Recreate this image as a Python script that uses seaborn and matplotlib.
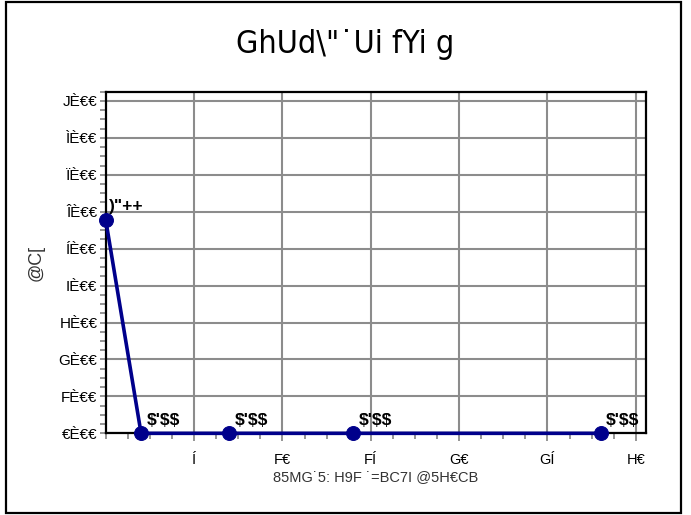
import matplotlib

matplotlib.use("Agg")

import matplotlib.pyplot as plt
import pandas as pd
import seaborn as sns
from matplotlib.patches import Rectangle
from matplotlib.ticker import AutoMinorLocator


DAYS = [0, 2, 7, 14, 28]
VALUES = [5.78, 0.0, 0.0, 0.0, 0.0]
POINT_LABELS = [')"++', "$'$$", "$'$$", "$'$$", "$'$$"]

X_TICKS = [5, 10, 15, 20, 25, 30]
X_TICK_LABELS = ["Í", "F€", "FÍ", "G€", "GÍ", "H€"]
Y_TICKS = [0, 1, 2, 3, 4, 5, 6, 7, 8, 9]
Y_TICK_LABELS = ["€È€€", "FÈ€€", "GÈ€€", "HÈ€€", "IÈ€€", "ÍÈ€€", "ÎÈ€€", "ÏÈ€€", "ÌÈ€€", "JÈ€€"]

TITLE = "GhUd\\\"˙Ui fYi g"
X_LABEL = "85MG˙5: H9F ˙=BC7I @5H€CB"
Y_LABEL = "@C["

LINE_COLOR = "#00008B"
GRID_COLOR = "#8C8C8C"


def configure_style():
    sns.set_theme(style="white")
    plt.rcParams.update(
        {
            "font.family": ["Liberation Sans", "DejaVu Sans"],
            "figure.facecolor": "#FFFFFF",
            "axes.facecolor": "#FFFFFF",
            "axes.edgecolor": "#000000",
            "text.color": "#000000",
            "xtick.color": GRID_COLOR,
            "ytick.color": GRID_COLOR,
            "xtick.labelcolor": "#000000",
            "ytick.labelcolor": "#000000",
        }
    )


def main():
    configure_style()
    df = pd.DataFrame({"day": DAYS, "value": VALUES})

    fig = plt.figure(figsize=(6.91, 5.15), dpi=100)
    ax = fig.add_axes([0.153, 0.1586, 0.7815, 0.6634])

    sns.lineplot(
        data=df,
        x="day",
        y="value",
        sort=False,
        color=LINE_COLOR,
        linewidth=2.6,
        marker="o",
        markersize=10,
        markeredgecolor=LINE_COLOR,
        clip_on=False,
        zorder=5,
        ax=ax,
    )

    # etiket nilai di kanan atas tiap titik
    for x, y, label in zip(DAYS, VALUES, POINT_LABELS):
        dx = 2 if x == 0 else 4
        ax.annotate(
            label,
            xy=(x, y),
            xytext=(dx, 4),
            textcoords="offset points",
            ha="left",
            va="bottom",
            fontsize=12.5,
            fontweight="bold",
            color="#000000",
            zorder=6,
        )

    ax.set_xlim(0, 30.56)
    ax.set_ylim(0, 9.25)
    ax.set_xticks(X_TICKS)
    ax.set_xticklabels(X_TICK_LABELS, fontsize=10.5)
    ax.set_yticks(Y_TICKS)
    ax.set_yticklabels(Y_TICK_LABELS, fontsize=11)
    ax.xaxis.set_minor_locator(AutoMinorLocator(4))
    ax.yaxis.set_minor_locator(AutoMinorLocator(4))
    ax.tick_params(
        axis="both", which="both", direction="out", length=4, width=1.3, pad=2,
        bottom=True, left=True, top=False, right=False,
    )
    ax.tick_params(axis="x", which="major", length=6, pad=8)

    ax.grid(True, which="major", color=GRID_COLOR, linewidth=1.5)
    ax.set_axisbelow(True)
    for spine in ax.spines.values():
        spine.set_color("#000000")
        spine.set_linewidth(1.6)
        spine.set_zorder(4)

    ax.set_xlabel(X_LABEL, fontsize=10.5, color="#333333", labelpad=2)
    ax.set_ylabel(Y_LABEL, fontsize=13, color="#333333", labelpad=10)

    fig.text(
        0.5,
        0.913,
        TITLE,
        ha="center",
        va="center",
        fontsize=23,
        family=["DejaVu Sans"],
        stretch="condensed",
    )

    fig.patches.append(
        Rectangle(
            (6 / 691, 2 / 515),
            674.5 / 691,
            511 / 515,
            transform=fig.transFigure,
            fill=False,
            edgecolor="#000000",
            linewidth=1.6,
        )
    )

    fig.savefig("out.png", dpi=100, facecolor="white")
    plt.close(fig)


if __name__ == "__main__":
    main()
